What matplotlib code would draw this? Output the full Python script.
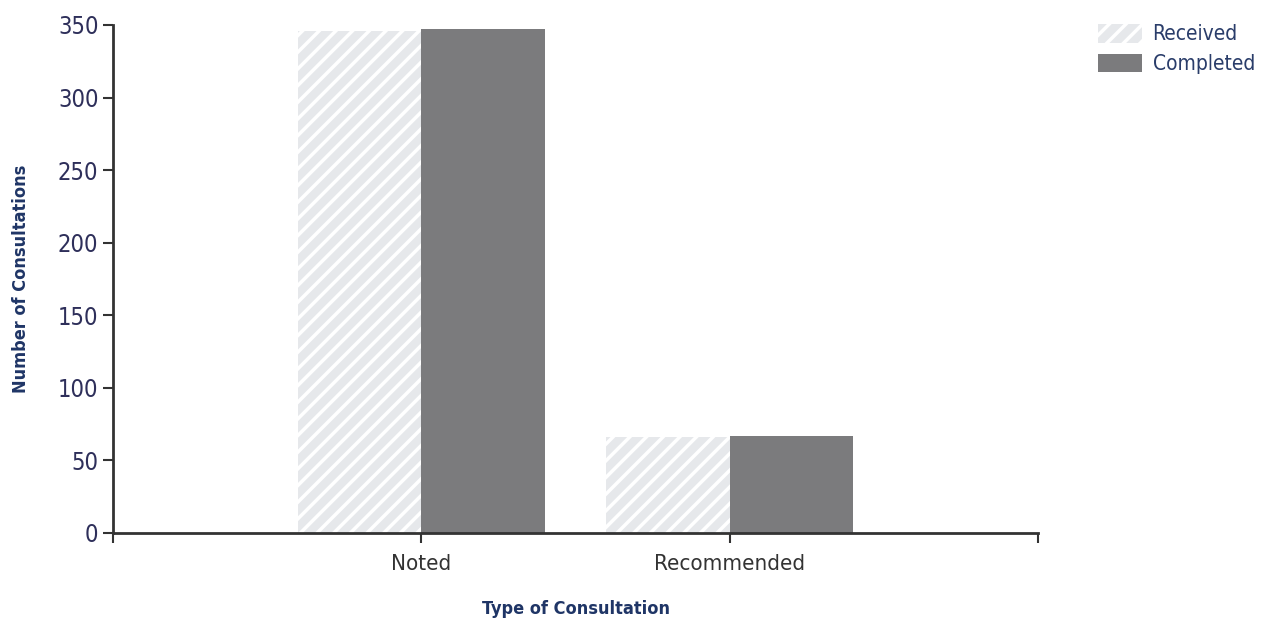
import matplotlib
matplotlib.use("Agg")
import matplotlib.pyplot as plt
import numpy as np
from matplotlib.patches import Patch

categories = ["Noted", "Recommended"]
received = [346, 66]
completed = [347, 67]
yticks = [0, 50, 100, 150, 200, 250, 300, 350]

plt.rcParams['font.family'] = ['DejaVu Sans']
plt.rcParams['font.stretch'] = 'condensed'
plt.rcParams['hatch.linewidth'] = 2.5
plt.rcParams['hatch.color'] = 'white'

fig = plt.figure(figsize=(12.64, 6.22), dpi=100)
ax = fig.add_axes([113/1264, 1-533/622, (1038-113)/1264, (533-25)/622])

x = np.arange(len(categories))
w = 0.4
ax.bar(x - w/2, received, w, color='#e6e8eb', edgecolor='white', hatch='//', linewidth=0)
ax.bar(x + w/2, completed, w, color='#7b7b7d', linewidth=0)

ax.set_xlim(-1, 2)
ax.set_ylim(0, 350)
ax.set_yticks(yticks)
ax.set_yticklabels([str(v) for v in yticks], fontsize=17, color='#2e2f5a')
ax.set_xticks([-1, 0, 1, 2])
ax.set_xticklabels(['', 'Noted', 'Recommended', ''], fontsize=16, color='#333333')
ax.tick_params(axis='both', direction='out', length=7, width=1.5, color='#333333')
ax.tick_params(axis='x', pad=8)
for s in ['top', 'right']:
    ax.spines[s].set_visible(False)
for s in ['left', 'bottom']:
    ax.spines[s].set_linewidth(2)
    ax.spines[s].set_color('#333333')

ax.set_xlabel('Type of Consultation', fontsize=13, fontweight='bold', color='#1f3566', labelpad=19)
ax.set_ylabel('Number of Consultations', fontsize=13, fontweight='bold', color='#1f3566', labelpad=20)

handles = [Patch(facecolor='#e6e8eb', edgecolor='white', hatch='//', linewidth=0, label='Received'),
           Patch(facecolor='#7b7b7d', linewidth=0, label='Completed')]
leg = fig.legend(handles=handles, loc='upper left', bbox_to_anchor=(1090/1264, 0.975),
                 frameon=False, fontsize=15, handlelength=2.1, handleheight=1.0,
                 labelspacing=0.45, handletextpad=0.5, borderaxespad=0)
for t in leg.get_texts():
    t.set_color('#2a3d6a')

fig.savefig('out.png', dpi=100)
